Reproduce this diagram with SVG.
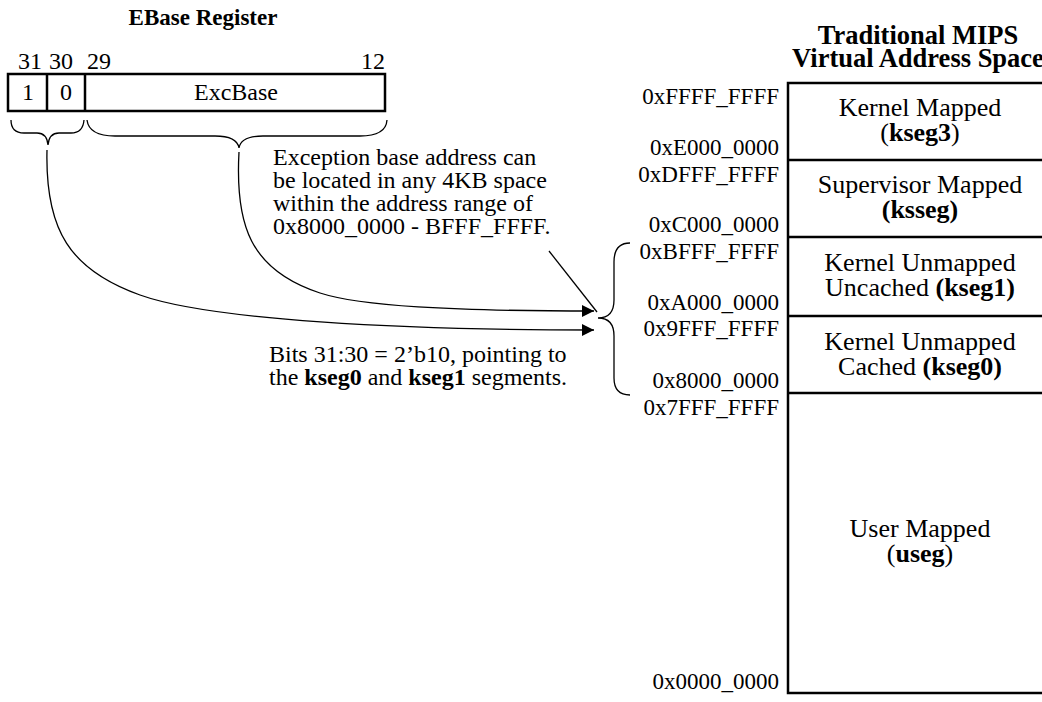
<svg xmlns="http://www.w3.org/2000/svg" width="1042" height="702" viewBox="0 0 1042 702">
<defs>
<style>
text{font-family:"Liberation Serif","Times New Roman",serif;fill:#000}
.t{font-size:23px;font-weight:bold;text-anchor:middle}
.h{font-size:26.5px;font-weight:bold;text-anchor:middle}
.n{font-size:24px}
.m{text-anchor:middle}
.e{text-anchor:end}
.a{font-size:23px;text-anchor:end}
.s{font-size:26px;text-anchor:middle}
.p{font-size:24px}
.box{fill:#fff;stroke:#000;stroke-width:2.5}
.dv{stroke:#000;stroke-width:2.5}
.ln{fill:none;stroke:#000;stroke-width:1.3}
</style>
<marker id="ah" viewBox="0 0 12 12" refX="12" refY="6" markerWidth="12" markerHeight="12" markerUnits="userSpaceOnUse" orient="auto">
<path d="M0,0 L12,6 L0,12 Z" fill="#000"/>
</marker>
</defs>
<rect width="1042" height="702" fill="#fff"/>
<g id="ebase">
<text class="t" x="203" y="25">EBase Register</text>
<text class="n m" x="30" y="69">31</text>
<text class="n m" x="61" y="69">30</text>
<text class="n" x="87" y="69">29</text>
<text class="n e" x="385" y="69">12</text>
<rect class="box" x="8" y="74" width="377" height="37"/>
<line class="dv" x1="47" y1="74" x2="47" y2="111"/>
<line class="dv" x1="85" y1="74" x2="85" y2="111"/>
<text class="n m" x="28" y="100">1</text>
<text class="n m" x="66" y="100">0</text>
<text class="n m" x="236" y="100">ExcBase</text>
</g>
<g id="braces">
<path class="ln" d="M11,120 Q11,133 24,133 L37,133 Q47,133 48,145 Q49,133 59,133 L71,133 Q83,133 84,120"/>
<path class="ln" d="M87,120 Q89,136 115,136 L215,136 Q237,136 239,148 Q241,136 263,136 L360,136 Q386,136 387,120"/>
<path class="ln" d="M630,243 Q614,243 614,262 L614,300 Q614,318 598,318 Q614,318 614,336 L614,378 Q614,395 630,395"/>
</g>
<g id="notes">
<text class="p" x="273" y="165">Exception base address can</text>
<text class="p" x="273" y="188">be located in any 4KB space</text>
<text class="p" x="273" y="211">within the address range of</text>
<text class="p" x="273" y="234">0x8000_0000 - BFFF_FFFF.</text>
<text class="p" x="269" y="362">Bits 31:30 = 2’b10, pointing to</text>
<text class="p" x="269" y="385">the <tspan font-weight="bold">kseg0</tspan> and <tspan font-weight="bold">kseg1</tspan> segments.</text>
</g>
<g id="connectors">
<path class="ln" d="M239,152 C235,225 250,270 320,293 C360,306 450,311 594,311" marker-end="url(#ah)"/>
<path class="ln" d="M47,150 C45,230 70,270 140,295 C210,320 400,330 594,330" marker-end="url(#ah)"/>
<line class="ln" x1="549" y1="251" x2="597" y2="312"/>
</g>
<g id="vas">
<text class="h" x="918" y="44">Traditional MIPS</text>
<text class="h" x="918" y="67">Virtual Address Space</text>
<rect class="box" x="788" y="83" width="262" height="610"/>
<line class="dv" x1="788" y1="160" x2="1042" y2="160"/>
<line class="dv" x1="788" y1="237" x2="1042" y2="237"/>
<line class="dv" x1="788" y1="316" x2="1042" y2="316"/>
<line class="dv" x1="788" y1="393" x2="1042" y2="393"/>
</g>
<g id="addr">
<text class="a" x="779" y="104">0xFFFF_FFFF</text>
<text class="a" x="779" y="155">0xE000_0000</text>
<text class="a" x="779" y="182">0xDFFF_FFFF</text>
<text class="a" x="779" y="232">0xC000_0000</text>
<text class="a" x="779" y="259">0xBFFF_FFFF</text>
<text class="a" x="779" y="310">0xA000_0000</text>
<text class="a" x="779" y="336">0x9FFF_FFFF</text>
<text class="a" x="779" y="388">0x8000_0000</text>
<text class="a" x="779" y="415">0x7FFF_FFFF</text>
<text class="a" x="779" y="689">0x0000_0000</text>
</g>
<g id="kseg3"><text class="s" x="920" y="116">Kernel Mapped</text><text class="s" x="920" y="141">(<tspan font-weight="bold">kseg3</tspan>)</text></g>
<g id="ksseg"><text class="s" x="920" y="193">Supervisor Mapped</text><text class="s" x="920" y="218" font-weight="bold">(ksseg)</text></g>
<g id="kseg1"><text class="s" x="920" y="271">Kernel Unmapped</text><text class="s" x="920" y="296">Uncached <tspan font-weight="bold">(kseg1)</tspan></text></g>
<g id="kseg0"><text class="s" x="920" y="350">Kernel Unmapped</text><text class="s" x="920" y="375">Cached <tspan font-weight="bold">(kseg0)</tspan></text></g>
<g id="useg"><text class="s" x="920" y="537">User Mapped</text><text class="s" x="920" y="562">(<tspan font-weight="bold">useg</tspan>)</text></g>
</svg>
